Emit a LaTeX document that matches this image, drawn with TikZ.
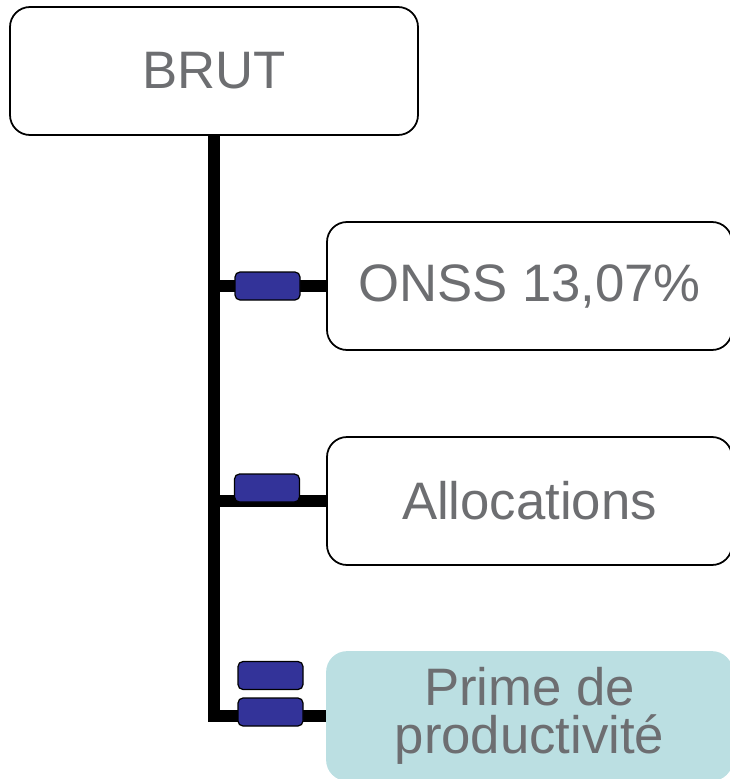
\documentclass[tikz,border=0pt]{standalone}
\usepackage{fontspec}
\setmainfont{Liberation Sans}
\usepackage{xcolor}
\usepackage{tikz}
\usetikzlibrary{positioning}
\definecolor{textgray}{HTML}{6D6E71}
\definecolor{tabblue}{HTML}{333399}
\definecolor{primecyan}{HTML}{BBDFE2}
\tikzstyle{topbox} = [rectangle, rounded corners=0.4cm, minimum width=8.16cm, minimum height=2.56cm, text centered, draw=black, line width=1pt, fill=white, text=textgray, font=\fontsize{30}{27}\selectfont]
\tikzstyle{leaf} = [topbox, minimum width=8.1cm]
\tikzstyle{leafhl} = [leaf, draw=primecyan, fill=primecyan, align=center]
\tikzstyle{tab} = [rectangle, rounded corners=0.1cm, minimum width=1.3cm, minimum height=0.56cm, inner sep=0pt, draw=black, line width=0.7pt, fill=tabblue]
\tikzstyle{trunk} = [line width=0.24cm]

\begin{document}
\begin{tikzpicture}[node distance=4.3cm]
    \useasboundingbox (0,0) rectangle (14.6,-15.58);

    \node (brut) [topbox] at (4.28,-1.42) {BRUT};
    \node (onss) [leaf] at (10.59,-5.72) {ONSS 13,07\%};
    \node (alloc) [leaf, below of=onss] {Allocations};
    \node (prime) [leafhl, below of=alloc] {Prime de\\productivité};

    \draw [trunk] (brut.south) |- (prime.west);
    \draw [trunk] (brut.south |- onss.west) -- (onss.west);
    \draw [trunk] (brut.south |- alloc.west) -- (alloc.west);

    \node (tabOnss) [tab] at (5.35,-5.72) {};
    \node (tabAlloc) [tab] at (5.34,-9.76) {};
    \node (tabPrimeA) [tab] at (5.41,-13.51) {};
    \node (tabPrimeB) [tab] at (5.41,-14.24) {};
\end{tikzpicture}
\end{document}
